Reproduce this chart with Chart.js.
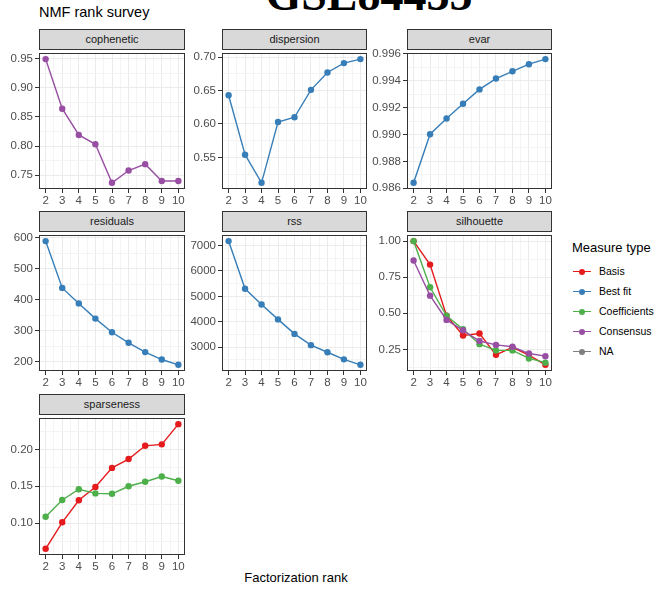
<!DOCTYPE html>
<html>
<head>
<meta charset="utf-8">
<script src="https://cdn.jsdelivr.net/npm/chart.js@4.4.1/dist/chart.umd.min.js"></script>
<style>
	body { margin: 0; background: #fff; width: 667px; height: 593px; position: relative; overflow: hidden; font-family: "Liberation Sans", Arial, sans-serif; }
	.abs { position: absolute; }
	.strip { position: absolute; box-sizing: border-box; background: #D9D9D9; border: 1px solid #333; color: #1A1A1A; font-size: 11px; text-align: center; line-height: 18px; }
	.big { position: absolute; left: 0; width: 738px; top: -28px; text-align: center; font: bold 46px/46px "Liberation Serif", "Times New Roman", serif; color: #000; white-space: nowrap; }
	.leg-item { position: absolute; left: 572px; height: 20px; font-size: 10.5px; color: #000; }
	.leg-line { position: absolute; left: 1px; top: 9px; width: 18px; height: 1.4px; }
	.leg-dot { position: absolute; left: 6.8px; top: 6.5px; width: 6.5px; height: 6.5px; border-radius: 50%; }
	.leg-text { position: absolute; left: 27px; top: 3px; white-space: nowrap; }
</style>
</head>
<body>
<div class="big">GSE84435</div>
<div class="abs" style="left:39px; top:4px; font-size:14.5px; color:#000;">NMF rank survey</div>
<div class="abs" style="left:196px; width:200px; top:570px; text-align:center; font-size:13px; color:#000;">Factorization rank</div>
<div class="abs" style="left:572px; top:240px; font-size:13px; color:#000;">Measure type</div>
<div id="legend"></div>

<script>
	// ранги факторизации (ось X)
	const ranks = [2, 3, 4, 5, 6, 7, 8, 9, 10];

	// значения по панелям
	const cophenetic = [0.949, 0.864, 0.819, 0.803, 0.737, 0.758, 0.769, 0.740, 0.740];
	const dispersion = [0.643, 0.554, 0.512, 0.603, 0.610, 0.651, 0.677, 0.691, 0.697];
	const evar = [0.9864, 0.99002, 0.99119, 0.99229, 0.99336, 0.99417, 0.99471, 0.99524, 0.99562];
	const residuals = [589, 438, 388, 339, 295, 261, 231, 207, 190];
	const rss = [7178, 5298, 4676, 4092, 3521, 3076, 2797, 2517, 2302];
	const silhouetteBasis = [1.0, 0.837, 0.483, 0.346, 0.36, 0.212, 0.264, 0.21, 0.143];
	const silhouetteCoefficients = [1.0, 0.68, 0.483, 0.389, 0.286, 0.243, 0.243, 0.187, 0.158];
	const silhouetteConsensus = [0.866, 0.622, 0.454, 0.382, 0.308, 0.281, 0.268, 0.221, 0.203];
	const sparsenessBasis = [0.065, 0.101, 0.131, 0.149, 0.175, 0.187, 0.205, 0.207, 0.2345];
	const sparsenessCoefficients = [0.1085, 0.1314, 0.146, 0.1403, 0.1398, 0.15, 0.1562, 0.1633, 0.1575];

	// подписи делений оси Y
	const copheneticTicks = [0.75, 0.8, 0.85, 0.9, 0.95];
	const dispersionTicks = [0.55, 0.6, 0.65, 0.7];
	const evarTicks = [0.986, 0.988, 0.99, 0.992, 0.994, 0.996];
	const residualsTicks = [200, 300, 400, 500, 600];
	const rssTicks = [3000, 4000, 5000, 6000, 7000];
	const silhouetteTicks = [0.25, 0.5, 0.75, 1.0];
	const sparsenessTicks = [0.1, 0.15, 0.2];

	// легенда
	const measureTypes = ["Basis", "Best fit", "Coefficients", "Consensus", "NA"];
	const measureColors = ["#E41A1C", "#377EB8", "#4DAF4A", "#984EA3", "#7F7F7F"];
	const colorOf = (name) => measureColors[measureTypes.indexOf(name)];

	const AXIS_W = 45;
	const AXIS_H = 24;
	const PAD = 5;

	const panelBorder = {
		id: "panelBorder",
		afterDraw(chart) {
			const { ctx, chartArea: a } = chart;
			ctx.save();
			ctx.strokeStyle = "#333333";
			ctx.lineWidth = 1;
			ctx.strokeRect(Math.round(a.left) + 0.5, Math.round(a.top) + 0.5, Math.round(a.right - a.left) - 1, Math.round(a.bottom - a.top) - 1);
			ctx.restore();
		},
	};

	// основные + промежуточные деления (как minor breaks в ggplot)
	const withMinor = (majors, min, max) => {
		const step = majors[1] - majors[0];
		const out = majors.map((v) => ({ value: v, isMinor: false }));
		majors.forEach((v) => out.push({ value: v - step / 2, isMinor: true }));
		out.push({ value: majors[majors.length - 1] + step / 2, isMinor: true });
		return out.filter((t) => t.value >= min && t.value <= max).sort((a, b) => a.value - b.value);
	};

	const expand = (arr) => {
		const lo = Math.min(...arr);
		const hi = Math.max(...arr);
		const d = (hi - lo) * 0.05;
		return [lo - d, hi + d];
	};

	const gridColor = (c) => (c.tick && c.tick.isMinor ? "#F4F4F4" : "#EBEBEB");
	const tickColor = (c) => (c.tick && c.tick.isMinor ? "rgba(0,0,0,0)" : "#333333");

	const makePanel = (p) => {
		const canvas = document.createElement("canvas");
		canvas.width = AXIS_W + p.w + PAD;
		canvas.height = PAD + p.h + AXIS_H;
		canvas.style.position = "absolute";
		canvas.style.left = p.x - AXIS_W + "px";
		canvas.style.top = p.y - PAD + "px";
		document.body.appendChild(canvas);

		const strip = document.createElement("div");
		strip.className = "strip";
		strip.style.left = p.x + "px";
		strip.style.top = p.y - 20 + "px";
		strip.style.width = p.w + "px";
		strip.style.height = "21px";
		strip.textContent = p.name;
		document.body.appendChild(strip);

		const allY = p.series.flatMap((s) => s.values);
		const [yMin, yMax] = expand(allY);
		const [xMin, xMax] = expand(ranks);

		new Chart(canvas, {
			type: "line",
			data: {
				datasets: p.series.map((s) => ({
					label: s.label,
					data: ranks.map((r, i) => ({ x: r, y: s.values[i] })),
					borderColor: colorOf(s.label),
					backgroundColor: colorOf(s.label),
					borderWidth: 1.4,
					pointRadius: 3.2,
					pointBorderWidth: 0,
					tension: 0,
					clip: false,
				})),
			},
			options: {
				responsive: false,
				animation: false,
				layout: { padding: { top: PAD, right: PAD, left: 0, bottom: 0 } },
				plugins: { legend: { display: false }, tooltip: { enabled: false } },
				scales: {
					x: {
						type: "linear",
						min: xMin,
						max: xMax,
						afterFit: (scale) => { scale.height = AXIS_H; },
						afterBuildTicks: (scale) => { scale.ticks = withMinor(ranks, xMin, xMax); },
						grid: { color: gridColor, lineWidth: 1, tickLength: 4, tickColor: tickColor, tickWidth: 1 },
						border: { display: false },
						ticks: {
							autoSkip: false,
							maxRotation: 0,
							padding: 1,
							color: "#4D4D4D",
							font: { family: "Liberation Sans", size: 11.5 },
							callback: (v, i, t) => (t[i].isMinor ? "" : String(v)),
						},
					},
					y: {
						type: "linear",
						min: yMin,
						max: yMax,
						afterFit: (scale) => { scale.width = AXIS_W; },
						afterBuildTicks: (scale) => { scale.ticks = withMinor(p.ticks, yMin, yMax); },
						grid: { color: gridColor, lineWidth: 1, tickLength: 4, tickColor: tickColor, tickWidth: 1 },
						border: { display: false },
						ticks: {
							autoSkip: false,
							padding: 2,
							color: "#4D4D4D",
							font: { family: "Liberation Sans", size: 11.5 },
							callback: (v, i, t) => (t[i].isMinor ? "" : v.toFixed(p.decimals)),
						},
					},
				},
			},
			plugins: [panelBorder],
		});
	};

	const panels = [
		{ name: "cophenetic", x: 39, y: 49, w: 146, h: 140, ticks: copheneticTicks, decimals: 2, series: [{ label: "Consensus", values: cophenetic }] },
		{ name: "dispersion", x: 222, y: 49, w: 145, h: 140, ticks: dispersionTicks, decimals: 2, series: [{ label: "Best fit", values: dispersion }] },
		{ name: "evar", x: 407, y: 49, w: 145, h: 140, ticks: evarTicks, decimals: 3, series: [{ label: "Best fit", values: evar }] },
		{ name: "residuals", x: 39, y: 231, w: 146, h: 140, ticks: residualsTicks, decimals: 0, series: [{ label: "Best fit", values: residuals }] },
		{ name: "rss", x: 222, y: 231, w: 145, h: 140, ticks: rssTicks, decimals: 0, series: [{ label: "Best fit", values: rss }] },
		{
			name: "silhouette", x: 407, y: 231, w: 145, h: 140, ticks: silhouetteTicks, decimals: 2,
			series: [
				{ label: "Consensus", values: silhouetteConsensus },
				{ label: "Coefficients", values: silhouetteCoefficients },
				{ label: "Basis", values: silhouetteBasis },
			],
		},
		{
			name: "sparseness", x: 39, y: 414, w: 146, h: 141, ticks: sparsenessTicks, decimals: 2,
			series: [
				{ label: "Coefficients", values: sparsenessCoefficients },
				{ label: "Basis", values: sparsenessBasis },
			],
		},
	];

	panels.forEach(makePanel);

	// легенда справа
	const legend = document.getElementById("legend");
	measureTypes.forEach((name, i) => {
		const item = document.createElement("div");
		item.className = "leg-item";
		item.style.top = 262 + i * 20 + "px";
		item.innerHTML =
			`<span class="leg-line" style="background:${measureColors[i]}"></span>` +
			`<span class="leg-dot" style="background:${measureColors[i]}"></span>` +
			`<span class="leg-text">${name}</span>`;
		legend.appendChild(item);
	});
</script>
</body>
</html>
